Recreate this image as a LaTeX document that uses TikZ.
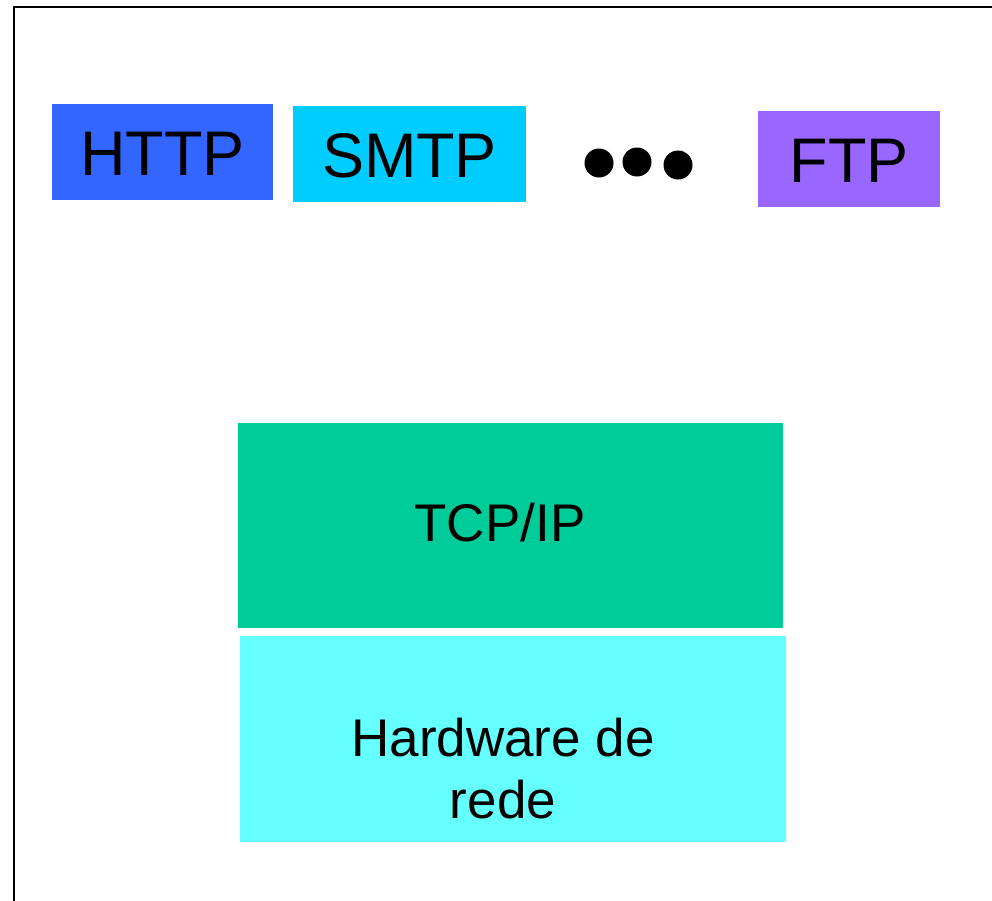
\documentclass[tikz,border=0pt]{standalone}
\usepackage{fontspec}
\setmainfont{Liberation Sans}
\definecolor{httpc}{HTML}{3366FF}
\definecolor{smtpc}{HTML}{00CCFF}
\definecolor{ftpc}{HTML}{9966FF}
\definecolor{tcpc}{HTML}{00CC99}
\definecolor{hwc}{HTML}{66FFFF}
\begin{document}
\begin{tikzpicture}[x=1pt,y=-1pt,
  proto/.style={inner sep=0pt,font=\fontsize{63}{70}\selectfont,text=black},
  layer/.style={inner sep=0pt,font=\fontsize{53}{62}\selectfont,text=black,align=center},
  dot/.style={fill=black,circle,minimum size=29pt,inner sep=0pt}]
\useasboundingbox (0,0) rectangle (992,900);
\draw[line width=2pt] (14,920) -- (14,7) -- (1010,7);
\fill[httpc] (52,104) rectangle (273,200);
\node[proto] (http) at (162.5,154) {HTTP};
\fill[smtpc] (293,106) rectangle (526,202);
\node[proto] (smtp) at (409.5,156) {SMTP};
\node[dot] (d1) at (599,163) {};
\node[dot] (d2) at (637,162) {};
\node[dot] (d3) at (678,165) {};
\fill[ftpc] (758,111) rectangle (940,207);
\node[proto] (ftp) at (849,161) {FTP};
\fill[tcpc] (238,423) rectangle (783,628);
\node[layer] (tcp) at (500,523) {TCP/IP};
\fill[hwc] (240,636) rectangle (786,842);
\node[layer] (hw) at (503,769) {Hardware de\\rede};
\end{tikzpicture}
\end{document}
